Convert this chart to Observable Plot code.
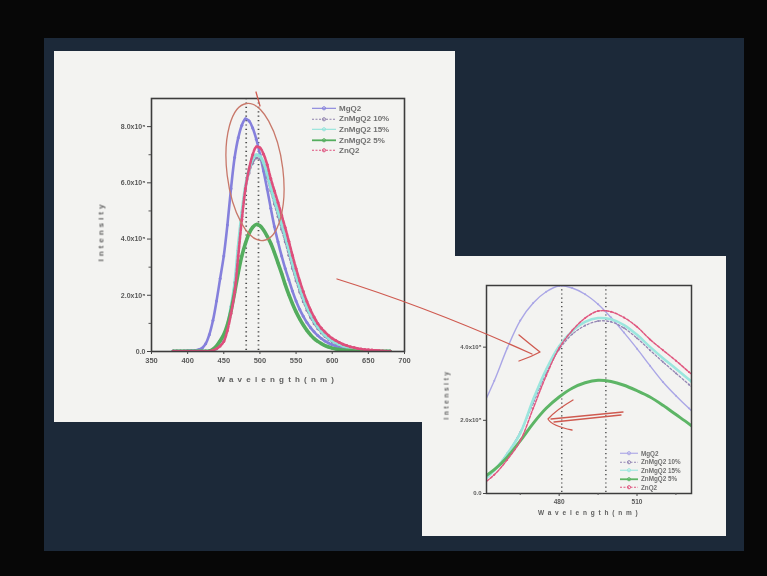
<!DOCTYPE html>
<html>
<head>
<meta charset="utf-8">
<script src="https://cdn.jsdelivr.net/npm/d3@7"></script>
<script src="https://cdn.jsdelivr.net/npm/@observablehq/plot@0.6"></script>
<style>
  html, body { margin: 0; padding: 0; }
  body { width: 767px; height: 576px; background: #070707; position: relative; overflow: hidden;
         font-family: "Liberation Sans", Arial, sans-serif; }
  #slide { position: absolute; left: 44px; top: 38px; width: 700px; height: 513px; background: #1c2939; }
  .panel { position: absolute; background: #f3f3f1; }
  #p1 { left: 54px; top: 51px; width: 401px; height: 371px; }
  #p2 { left: 422px; top: 256px; width: 304px; height: 280px; }
  .chart { position: absolute; left: 0; top: 0; filter: blur(0.6px); }
  .ttl { position: absolute; font-weight: bold; color: #5e5e5e; white-space: nowrap; filter: blur(0.5px); }
  .leg { position: absolute; filter: blur(0.55px); }
  .leg div { display: flex; align-items: center; white-space: nowrap; color: #707070; font-weight: bold; }
  #overlay { position: absolute; left: 0; top: 0; pointer-events: none; filter: blur(0.55px); }
</style>
</head>
<body>
<div id="slide"></div>
<div class="panel" id="p1"></div>
<div class="panel" id="p2"></div>
<script>
// ---------------- data ----------------
const wavelength = [380,385,390,395,400,405,410,415,420,425,430,435,440,445,450,455,460,465,470,475,
  480,485,490,495,500,505,510,515,520,525,530,535,540,545,550,555,560,565,570,575,
  580,585,590,595,600,605,610,615,620,625,630,635,640,645,650,655,660,665,670,675,680];

const seriesNames = ["MgQ2", "ZnMgQ2 10%", "ZnMgQ2 15%", "ZnMgQ2 5%", "ZnQ2"];

// intensity in units of 10^5
const mgq2 = [0.02,0.02,0.02,0.02,0.03,0.03,0.04,0.06,0.12,0.28,0.6,1.1,1.8,2.6,3.4,4.5,5.8,6.9,7.6,8.05,
  8.28,8.2,7.95,7.55,7.02,6.42,5.78,5.1,4.45,3.9,3.4,2.95,2.55,2.15,1.8,1.5,1.25,1.03,0.85,0.7,
  0.57,0.46,0.37,0.3,0.24,0.19,0.15,0.12,0.09,0.07,0.05,0.04,0.03,0.02,0.02,0.01,0.01,0.01,0.01,0.01,0.01];
const znmgq2_10 = [0.01,0.01,0.01,0.01,0.01,0.01,0.01,0.01,0.01,0.01,0.02,0.05,0.12,0.28,0.5,0.95,1.6,2.45,3.6,4.8,
  5.75,6.35,6.7,6.88,6.85,6.6,6.2,5.72,5.25,4.8,4.35,3.9,3.42,2.95,2.52,2.12,1.77,1.47,1.21,0.99,
  0.81,0.66,0.53,0.43,0.35,0.28,0.22,0.18,0.14,0.11,0.08,0.06,0.05,0.04,0.03,0.02,0.02,0.01,0.01,0.01,0.01];
const znmgq2_15 = [0.01,0.01,0.01,0.01,0.01,0.01,0.01,0.01,0.01,0.01,0.02,0.04,0.1,0.25,0.45,0.92,1.58,2.4,3.75,4.95,
  5.88,6.48,6.85,7.0,6.95,6.72,6.33,5.85,5.4,4.98,4.55,4.1,3.62,3.13,2.68,2.27,1.9,1.58,1.31,1.08,
  0.88,0.72,0.58,0.47,0.38,0.31,0.25,0.2,0.16,0.12,0.09,0.07,0.05,0.04,0.03,0.02,0.02,0.01,0.01,0.01,0.01];
const znmgq2_5 = [0.01,0.01,0.01,0.01,0.01,0.01,0.01,0.01,0.01,0.01,0.02,0.08,0.2,0.38,0.6,0.95,1.45,2.1,2.8,3.4,
  3.85,4.2,4.42,4.52,4.47,4.32,4.1,3.85,3.52,3.15,2.78,2.38,2.02,1.7,1.41,1.16,0.94,0.75,0.59,0.46,
  0.36,0.28,0.21,0.16,0.12,0.09,0.07,0.05,0.04,0.03,0.02,0.01,0.01,0.01,0.01,0.01,0.01,0.01,0.01,0.01,0.01];
const znq2 = [0.01,0.01,0.01,0.01,0.01,0.01,0.01,0.01,0.01,0.01,0.01,0.04,0.1,0.2,0.36,0.75,1.35,2.1,3.4,4.7,
  5.8,6.5,7.0,7.28,7.25,7.02,6.65,6.15,5.72,5.3,4.85,4.4,3.92,3.42,2.95,2.52,2.13,1.78,1.48,1.22,
  1.0,0.83,0.69,0.57,0.47,0.39,0.32,0.26,0.21,0.17,0.14,0.11,0.09,0.07,0.06,0.05,0.04,0.03,0.02,0.01,0.01];

const seriesValues = [mgq2, znmgq2_10, znmgq2_15, znmgq2_5, znq2];

// axes
const xTicksMain = [350,400,450,500,550,600,650,700];
const yTicksMain = [0,2,4,6,8];
const yTickLabelsMain = ["0.0","2.0x10\u2075","4.0x10\u2075","6.0x10\u2075","8.0x10\u2075"];
const yMinorMain = [1,3,5,7];
const peakLines = [481, 498];

const xTicksInset = [480, 510];
const xMinorInset = [465, 495, 525];
const yTicksInset = [0, 2.92, 5.84];
const yTickLabelsInset = ["0.0","2.0x10\u2075","4.0x10\u2075"];

// ---------------- styles ----------------
const colorsMain  = ["#8580dc", "#8e80ac", "#8fe3da", "#54ad5e", "#de4f7c"];
const colorsInset = ["#aaa6e6", "#9486b4", "#9be6de", "#5db566", "#e0567f"];
const widthsMain  = [2.6, 1.8, 3.0, 3.6, 2.6];
const widthsInset = [1.4, 1.3, 2.6, 3.0, 1.5];
const dashes      = [null, "2,2", null, null, "3,1.5"];

const rows = seriesNames.flatMap((s, i) => wavelength.map((w, j) => ({s, w, v: seriesValues[i][j]})));
const fontFam = "Liberation Sans, Arial, sans-serif";

function seriesMarks(colors, widths, r, curve) {
  const order = [0, 1, 2, 3, 4];
  return order.flatMap(i => {
    const d = rows.filter(r => r.s === seriesNames[i]);
    return [
      Plot.line(d, {x: "w", y: "v", stroke: colors[i], strokeWidth: widths[i], strokeDasharray: dashes[i], curve, clip: true}),
      Plot.dot(d, {x: "w", y: "v", r, fill: colors[i], stroke: "none", clip: true})
    ];
  });
}

// ---------------- main chart ----------------
const main = Plot.plot({
  width: 401, height: 371,
  marginLeft: 97, marginRight: 51, marginTop: 47, marginBottom: 71,
  x: {domain: [350, 700]},
  y: {domain: [0, 9]},
  style: {background: "transparent", fontFamily: fontFam, overflow: "visible"},
  marks: [
    Plot.ruleX(peakLines, {stroke: "#4a4a4a", strokeWidth: 1.7, strokeDasharray: "1.2,3.2"}),
    ...seriesMarks(colorsMain, widthsMain, 1.5, "catmull-rom"),
    Plot.frame({stroke: "#3c3c3c", strokeWidth: 1.6}),
    Plot.axisX({ticks: xTicksMain, tickSize: 3, tickPadding: 3, fontSize: 7.5, fontWeight: "bold", fill: "#5a5a5a", stroke: "#444", label: null}),
    Plot.axisY({ticks: yTicksMain, tickSize: 4, tickPadding: 2, fontSize: 7, fontWeight: "bold", fill: "#5a5a5a", stroke: "#444",
                tickFormat: d => yTickLabelsMain[yTicksMain.indexOf(d)], label: null}),
    Plot.axisY({ticks: yMinorMain, tickSize: 2.5, tickFormat: () => "", stroke: "#555", label: null})
  ]
});
main.classList.add("chart");
document.getElementById("p1").appendChild(main);

// ---------------- inset chart ----------------
const inset = Plot.plot({
  width: 304, height: 280,
  marginLeft: 64, marginRight: 35, marginTop: 29, marginBottom: 43,
  x: {domain: [452, 531]},
  y: {domain: [0, 8.3]},
  style: {background: "transparent", fontFamily: fontFam, overflow: "visible"},
  marks: [
    Plot.ruleX(peakLines, {stroke: "#4a4a4a", strokeWidth: 1.4, strokeDasharray: "1.2,3"}),
    ...seriesMarks(colorsInset, widthsInset, 1.0, "catmull-rom"),
    Plot.frame({stroke: "#3c3c3c", strokeWidth: 1.5}),
    Plot.axisX({ticks: xTicksInset, tickSize: 3, tickPadding: 3, fontSize: 6.5, fontWeight: "bold", fill: "#5a5a5a", stroke: "#444", label: null}),
    Plot.axisX({ticks: xMinorInset, tickSize: 2, tickFormat: () => "", stroke: "#555", label: null}),
    Plot.axisY({ticks: yTicksInset, tickSize: 3, tickPadding: 2, fontSize: 6, fontWeight: "bold", fill: "#5a5a5a", stroke: "#444",
                tickFormat: d => yTickLabelsInset[yTicksInset.indexOf(d)], label: null})
  ]
});
inset.classList.add("chart");
document.getElementById("p2").appendChild(inset);

// ---------------- axis titles ----------------
function title(text, x, y, size, spacing, rotate) {
  const el = document.createElement("div");
  el.className = "ttl";
  el.textContent = text;
  el.style.fontSize = size + "px";
  el.style.letterSpacing = spacing + "px";
  document.body.appendChild(el);
  const w = el.offsetWidth, h = el.offsetHeight;
  el.style.left = (x - w / 2) + "px";
  el.style.top = (y - h / 2) + "px";
  if (rotate) el.style.transform = "rotate(-90deg)";
}
title("Wavelength(nm)", 278, 379, 8, 4.2, false);
title("Intensity", 101, 231, 8, 3, true);
title("Wavelength(nm)", 590, 512, 6.5, 3.8, false);
title("Intensity", 446, 394, 6.5, 2.6, true);

// ---------------- legends ----------------
function legend(x, y, rowH, fontSize, swW, colors) {
  const box = document.createElement("div");
  box.className = "leg";
  box.style.left = x + "px";
  box.style.top = y + "px";
  seriesNames.forEach((name, i) => {
    const row = document.createElement("div");
    row.style.height = rowH + "px";
    row.style.fontSize = fontSize + "px";
    const ns = "http://www.w3.org/2000/svg";
    const sv = document.createElementNS(ns, "svg");
    sv.setAttribute("width", swW); sv.setAttribute("height", rowH);
    sv.style.marginRight = "3px";
    const ln = document.createElementNS(ns, "line");
    ln.setAttribute("x1", 0); ln.setAttribute("x2", swW);
    ln.setAttribute("y1", rowH / 2); ln.setAttribute("y2", rowH / 2);
    ln.setAttribute("stroke", colors[i]); ln.setAttribute("stroke-width", i === 3 ? 1.8 : 1.1);
    if (dashes[i]) ln.setAttribute("stroke-dasharray", "2,1.5");
    sv.appendChild(ln);
    const mk = document.createElementNS(ns, "circle");
    mk.setAttribute("cx", swW / 2); mk.setAttribute("cy", rowH / 2); mk.setAttribute("r", 1.6);
    mk.setAttribute("fill", "none"); mk.setAttribute("stroke", colors[i]);
    sv.appendChild(mk);
    row.appendChild(sv);
    const t = document.createElement("span");
    t.textContent = name;
    row.appendChild(t);
    box.appendChild(row);
  });
  document.body.appendChild(box);
}
legend(312, 103, 10.6, 8, 24, colorsMain);
legend(620, 449, 8.5, 6.3, 18, colorsInset);
</script>
<!-- hand-drawn pen annotations from the slide -->
<svg id="overlay" width="767" height="576" xmlns="http://www.w3.org/2000/svg">
  <g fill="none" stroke="#cf5a50" stroke-width="1.3" stroke-linecap="round" stroke-linejoin="round">
    <ellipse cx="255" cy="172" rx="28" ry="69" transform="rotate(-7 255 172)" stroke="#c8786a"/>
    <path d="M256,92 L260,106"/>
    <path d="M337,279 Q430,308 532,354"/>
    <path d="M519,335 Q531,345 540,352 Q531,357 519,361"/>
    <path d="M623,412 L551,419"/>
    <path d="M621,415 L554,422"/>
    <path d="M573,400 Q556,410 548,419 Q552,426 572,430"/>
  </g>
</svg>
</body>
</html>
